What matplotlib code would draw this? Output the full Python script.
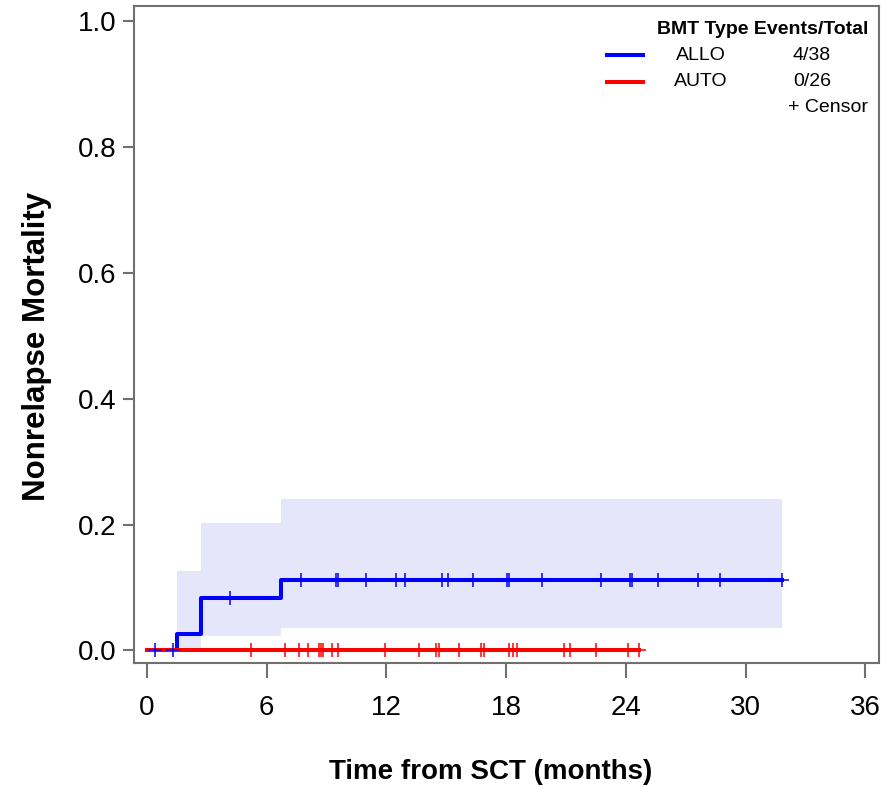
import numpy as np
import matplotlib.pyplot as plt
from matplotlib.lines import Line2D

plt.rcParams['font.family'] = ['Liberation Sans', 'DejaVu Sans']

# ALLO cumulative incidence (step function) and confidence band
allo_t = [0, 1.52, 2.69, 6.7, 31.85]
allo_y = [0, 0.026, 0.083, 0.112, 0.112]
band_t = [1.52, 2.69, 6.7, 31.85]
band_lo = [0.0, 0.022, 0.036, 0.036]
band_hi = [0.126, 0.203, 0.240, 0.240]
allo_censor = [0.4, 1.28, 4.16, 7.72, 9.47, 9.59, 11.0, 12.48, 12.93, 14.77,
               15.1, 16.36, 18.06, 18.12, 19.82, 22.76, 24.2, 24.33, 25.6,
               27.63, 28.72, 31.85]

# AUTO: no events
auto_t = [0, 24.66]
auto_y = [0, 0]
auto_censor = [5.2, 6.92, 7.64, 8.05, 8.64, 8.72, 8.84, 9.26, 9.59, 11.93,
               13.62, 14.49, 14.65, 15.64, 16.74, 16.89, 18.16, 18.36, 18.56,
               20.9, 21.2, 22.5, 24.13, 24.66]

groups = ['ALLO', 'AUTO']
events = ['4/38', '0/26']
colors = ['#0000ff', '#ff0000']

xticks = [0, 6, 12, 18, 24, 30, 36]
yticks = [0.0, 0.2, 0.4, 0.6, 0.8, 1.0]


def step_value(times, values, t):
    idx = np.searchsorted(times, t, side='right') - 1
    return np.asarray(values)[idx]


fig = plt.figure(figsize=(8.89, 7.88), dpi=100)
ax = fig.add_axes([0.151, 0.158, 0.838, 0.834])

ax.fill_between(band_t, band_lo, band_hi, step='post', color='#e6e6fa', lw=0, zorder=1)
ax.plot(allo_t, allo_y, drawstyle='steps-post', color=colors[0], lw=2.9, zorder=3)
ax.plot(auto_t, auto_y, color=colors[1], lw=2.9, zorder=4)
ax.plot(auto_censor, step_value(auto_t, auto_y, auto_censor), ls='none', marker='+',
        ms=10, mew=1.1, color=colors[1], zorder=5)
ax.plot(allo_censor, step_value(allo_t, allo_y, allo_censor), ls='none', marker='+',
        ms=10, mew=1.1, color=colors[0], zorder=6)

ax.set_xlim(-0.64, 36.7)
ax.set_ylim(-0.021, 1.024)
ax.set_xticks(xticks)
ax.set_yticks(yticks)
ax.set_yticklabels([f'{v:.1f}' for v in yticks])
ax.tick_params(axis='both', labelsize=20, color='#707070', width=1.5)
ax.tick_params(axis='x', length=10.5, pad=12)
ax.tick_params(axis='y', length=8, pad=5)
for sp in ax.spines.values():
    sp.set_color('#707070')
    sp.set_linewidth(1.5)

ax.set_xlabel('Time from SCT (months)', fontsize=20, fontweight='bold', va='center')
ax.set_ylabel('Nonrelapse Mortality', fontsize=22.5, fontweight='bold', va='center')
ax.xaxis.set_label_coords(0.478, -0.165)
ax.yaxis.set_label_coords(-0.131, 0.483)

# legend block, top right
def fx(px):
    return px / 889


def fy(py):
    return 1 - py / 788


fig.text(fx(868), fy(29), 'BMT Type Events/Total', fontsize=14, fontweight='bold',
         ha='right', va='center')
for i, (g, ev) in enumerate(zip(groups, events)):
    yy = fy(55 + 27 * i)
    fig.add_artist(Line2D([fx(607), fx(643)], [yy, yy], color=colors[i], lw=2.9,
                          transform=fig.transFigure))
    fig.text(fx(701), yy, g, fontsize=14, ha='center', va='center')
    fig.text(fx(812), yy, ev, fontsize=14, ha='center', va='center')
fig.text(fx(868), fy(108), '+ Censor', fontsize=14, ha='right', va='center')

fig.savefig('out.png', dpi=100)
